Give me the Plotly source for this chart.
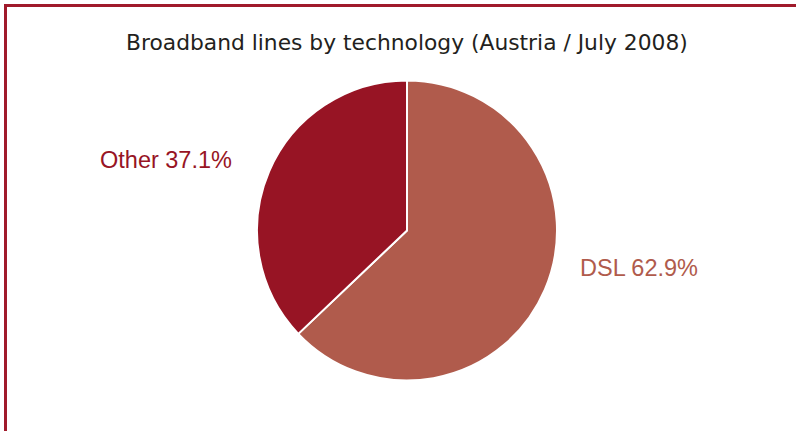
import plotly.graph_objects as go

W, H = 796, 431

labels = ["DSL", "Other"]
values = [62.9, 37.1]
colors = ["#B05B4C", "#971424"]
title_text = "Broadband lines by technology (Austria / July 2008)"

fig = go.Figure()
fig.add_trace(go.Pie(
    labels=labels,
    values=values,
    sort=False,
    direction="clockwise",
    rotation=0,
    textinfo="none",
    hoverinfo="label+percent",
    marker=dict(colors=colors, line=dict(color="white", width=2)),
    domain=dict(x=[257 / W, 557 / W], y=[1 - 381 / H, 1 - 80 / H]),
    showlegend=False,
))

label_pos = {"DSL": (578, 268, "left"), "Other": (234, 160, "right")}
for lab, val, col in zip(labels, values, colors):
    px, py, anchor = label_pos[lab]
    fig.add_annotation(
        x=px / W, y=1 - py / H, xref="paper", yref="paper",
        text=f"{lab} {val:.1f}%", showarrow=False,
        xanchor=anchor, yanchor="middle",
        font=dict(family="Liberation Sans, Arial, sans-serif", size=23.5, color=col),
    )

fig.add_annotation(
    x=407 / W, y=1 - 43 / H, xref="paper", yref="paper",
    text=title_text, showarrow=False, xanchor="center", yanchor="middle",
    font=dict(family="DejaVu Sans, sans-serif", size=21.8, color="#231F20"),
)

# border (left and top)
fig.add_shape(type="path", xref="paper", yref="paper",
              path=f"M {5.5 / W} 0 L {5.5 / W} {1 - 5.5 / H} L 1 {1 - 5.5 / H}",
              line=dict(color="#A01A2B", width=3))

fig.update_layout(
    width=W, height=H,
    margin=dict(l=0, r=0, t=0, b=0),
    paper_bgcolor="white", plot_bgcolor="white",
)

fig.write_html("out.html")
